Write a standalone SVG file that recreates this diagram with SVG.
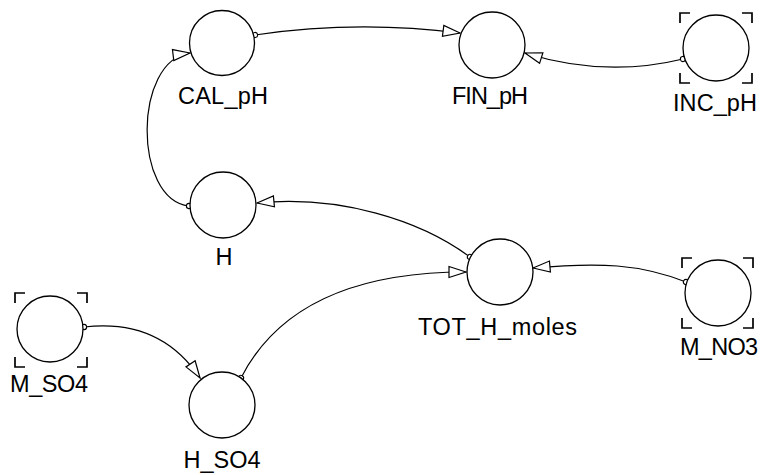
<svg xmlns="http://www.w3.org/2000/svg" width="761" height="475" viewBox="0 0 761 475">
  <style>
    .node circle.body { fill: #ffffff; stroke: #000000; stroke-width: 1.3; }
    .bracket { fill: none; stroke: #000000; stroke-width: 1.7; }
    .label { font-family: "Liberation Sans", Arial, sans-serif; font-size: 23.5px; fill: #000000; text-anchor: middle; }
    .link { fill: none; stroke: #000000; stroke-width: 1.2; marker-start: url(#tail); marker-end: url(#head); }
  </style>
  <defs>
    <marker id="head" viewBox="-19 -8 21 16" markerWidth="21" markerHeight="16" refX="0" refY="0" orient="auto" markerUnits="userSpaceOnUse" overflow="visible">
      <path d="M0,0 L-17,-5.5 L-17,5.5 Z" fill="#ffffff" stroke="#000000" stroke-width="1.2"/>
    </marker>
    <marker id="tail" viewBox="-4 -4 8 8" markerWidth="8" markerHeight="8" refX="0" refY="0" orient="auto" markerUnits="userSpaceOnUse" overflow="visible">
      <circle cx="0" cy="0" r="2.6" fill="#ffffff" stroke="#000000" stroke-width="1.1"/>
    </marker>
  </defs>

  <rect x="0" y="0" width="761" height="475" fill="#ffffff"/>

  <!-- connectors -->
  <g id="connectors">
    <path class="link" d="M255,35 Q357,20 460,33"/>
    <path class="link" d="M683,59 Q605,78 525,53"/>
    <path class="link" d="M189,206 C133,200 133,60 190,53"/>
    <path class="link" d="M470,257 C420,220 340,195 257,203"/>
    <path class="link" d="M241,378 Q295,272 466,272"/>
    <path class="link" d="M84,327 Q160,318 200,378"/>
    <path class="link" d="M686,282 C640,264 600,262 533,268"/>
  </g>

  <!-- nodes -->
  <g id="CAL_pH" class="node">
    <circle class="body" cx="222" cy="43" r="32.5"/>
    <text class="label" x="223" y="104" textLength="90">CAL_pH</text>
  </g>
  <g id="FIN_pH" class="node">
    <circle class="body" cx="492" cy="45" r="33"/>
    <text class="label" x="490" y="104" textLength="76">FIN_pH</text>
  </g>
  <g id="INC_pH" class="node">
    <path class="bracket" d="M680,23 V13 H690 M742,13 H752 V23 M752,73 V83 H742 M690,83 H680 V73"/>
    <circle class="body" cx="716" cy="48" r="33"/>
    <text class="label" x="715" y="111" textLength="84">INC_pH</text>
  </g>
  <g id="H" class="node">
    <circle class="body" cx="223" cy="205" r="33"/>
    <text class="label" x="224" y="265" textLength="15">H</text>
  </g>
  <g id="TOT_H_moles" class="node">
    <circle class="body" cx="500" cy="272" r="33"/>
    <text class="label" x="497.5" y="335" textLength="159">TOT_H_moles</text>
  </g>
  <g id="M_NO3" class="node">
    <path class="bracket" d="M682,268 V258 H692 M743,258 H753 V268 M753,318 V328 H743 M692,328 H682 V318"/>
    <circle class="body" cx="718" cy="293" r="33"/>
    <text class="label" x="719" y="355" textLength="78">M_NO3</text>
  </g>
  <g id="M_SO4" class="node">
    <path class="bracket" d="M15,303 V293 H25 M77,293 H87 V303 M87,357 V367 H77 M25,367 H15 V357"/>
    <circle class="body" cx="50" cy="329" r="33"/>
    <text class="label" x="49" y="392" textLength="78">M_SO4</text>
  </g>
  <g id="H_SO4" class="node">
    <circle class="body" cx="222" cy="405" r="33"/>
    <text class="label" x="222" y="468" textLength="77">H_SO4</text>
  </g>
</svg>
